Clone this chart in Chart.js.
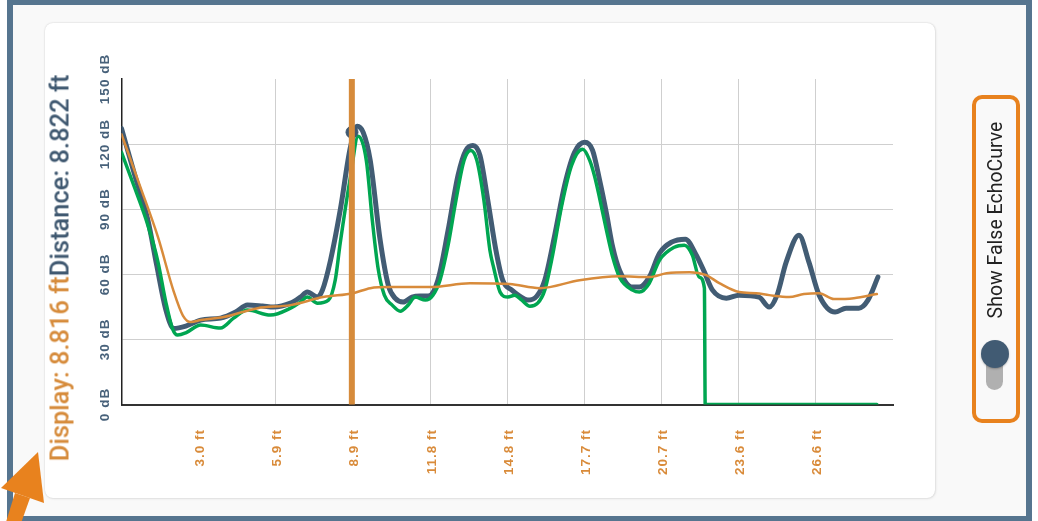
<!DOCTYPE html>
<html>
<head>
<meta charset="utf-8">
<title>Echo Curve</title>
<script src="https://cdn.jsdelivr.net/npm/chart.js@4.4.1/dist/chart.umd.min.js"></script>
<style>
  html, body { margin: 0; padding: 0; background: #fff; }
  body { position: relative; width: 1038px; height: 521px; overflow: hidden; font-family: Roboto, "Liberation Sans", Arial, sans-serif; }
  .frame { position: absolute; left: 7px; top: 0; width: 1025px; height: 521px; box-sizing: border-box; border: 6px solid #56758f; border-top-width: 5px; border-bottom-width: 5px; background: #f9f9f9; }
  .card { position: absolute; left: 45px; top: 23px; width: 890px; height: 475px; background: #fff; border-radius: 8px; box-shadow: 0 0 2px rgba(0,0,0,0.18), 1px 1px 3px rgba(0,0,0,0.06); }
  #echoChart { position: absolute; left: 0; top: 0; }
  .readout { position: absolute; left: 59.5px; top: 268px; transform: translate(-50%, -50%) rotate(-90deg); white-space: nowrap; font-size: 25.5px; line-height: 25px; font-weight: 500; }
  .readout .disp { color: #d68b3b; }
  .readout .dist { color: #3f5870; }
  .toggle { position: absolute; left: 972px; top: 95px; width: 48px; height: 328px; box-sizing: border-box; border: 4px solid #e8821e; border-radius: 10px; }
  .toggle-label { position: absolute; left: 995px; top: 219.5px; transform: translate(-50%, -50%) rotate(-90deg); white-space: nowrap; font-size: 19.5px; color: #222; }
  .track { position: absolute; left: 986px; top: 352px; width: 17px; height: 38px; border-radius: 9px; background: #b0b0b0; }
  .knob { position: absolute; left: 980.5px; top: 340px; width: 28px; height: 28px; border-radius: 50%; background: #415b73; box-shadow: 0 1px 2px rgba(0,0,0,0.25); }
  .arrow { position: absolute; left: 0; top: 0; }
</style>
</head>
<body>
<div class="frame"></div>
<div class="card"></div>
<canvas id="echoChart" width="1038" height="521"></canvas>
<div class="readout"><span class="disp">Display: 8.816 ft</span><span class="dist">Distance: 8.822 ft</span></div>
<div class="toggle"></div>
<div class="toggle-label">Show False EchoCurve</div>
<div class="track"></div>
<div class="knob"></div>
<svg class="arrow" width="1038" height="521">
  <polygon points="38,452 1,488 44,503" fill="#e8821e"/>
  <polygon points="15,493 30,498 20,526 6,522" fill="#e8821e"/>
</svg>
<script>
"use strict";

// Echo curve (dark)
const echoFt = [0.0, 0.5, 1.01, 1.35, 1.69, 2.0, 2.46, 3.03, 3.79, 4.37, 4.82, 5.40, 5.82, 6.47, 6.85, 7.11, 7.50, 7.69, 8.0, 8.37, 8.76, 9.02, 9.25, 9.52, 9.90, 10.21, 10.47, 10.78, 11.12, 11.43, 11.74, 12.11, 12.50, 12.88, 13.18, 13.45, 13.72, 14.02, 14.33, 14.59, 14.94, 15.24, 15.55, 15.90, 16.20, 16.58, 16.96, 17.34, 17.73, 18.03, 18.30, 18.56, 18.80, 19.06, 19.56, 19.82, 20.20, 20.59, 21.05, 21.58, 22.00, 22.31, 22.62, 23.15, 23.64, 24.40, 24.79, 25.09, 25.44, 25.93, 26.31, 26.70, 27.31, 27.73, 28.22, 28.57, 28.95];
const echoDb = [127.2, 106, 85, 64, 44, 35, 36.1, 38.9, 39.8, 42.6, 45.9, 45.4, 44.9, 46.7, 49.5, 51.8, 49.5, 52.7, 66.5, 89.5, 118.5, 128.2, 125.4, 112.5, 75.7, 55, 49, 47.2, 49.5, 50, 50, 57.3, 80.3, 105.6, 117.1, 119.4, 114.8, 94.1, 71.1, 57.3, 52.7, 50, 48.1, 50, 57.3, 78, 101, 116.2, 120.8, 117.1, 103.3, 88.1, 72.5, 61.9, 54.1, 54.1, 58.7, 69.7, 74.8, 76.2, 68.8, 61, 52.7, 49, 50.4, 49.5, 44.9, 50.4, 65.6, 78, 65.6, 50.4, 42.6, 44.4, 44.4, 48.1, 58.7];

// False echo curve (green)
const falseFt = [0.0, 0.5, 1.0, 1.39, 1.7, 1.95, 2.15, 2.46, 3.03, 3.79, 4.29, 4.82, 5.70, 6.47, 6.85, 7.11, 7.50, 7.92, 8.18, 8.37, 8.76, 9.06, 9.37, 9.60, 9.82, 10.06, 10.36, 10.67, 10.97, 11.24, 11.63, 11.92, 12.19, 12.50, 12.80, 13.11, 13.37, 13.60, 13.87, 14.10, 14.25, 14.49, 14.79, 15.05, 15.32, 15.63, 15.93, 16.20, 16.50, 16.85, 17.23, 17.65, 17.92, 18.11, 18.30, 18.56, 18.80, 19.06, 19.56, 19.82, 20.20, 20.59, 21.16, 21.54, 21.85, 22.11, 22.31, 22.34, 28.91];
const falseDb = [116.2, 100, 83, 66, 47, 35, 32, 33, 36.6, 35.2, 39.8, 43.5, 41.2, 44.4, 47.2, 49.5, 46.7, 48.1, 57.3, 74.3, 104.7, 123.6, 112.5, 84.9, 62.8, 50.4, 45.8, 43, 45.8, 49.5, 48.1, 50.4, 57.3, 73.4, 94.1, 112.5, 117.1, 112.5, 94.1, 71.1, 62.8, 51.8, 49.5, 50.4, 48.1, 45.3, 46.7, 52.7, 68.8, 91.8, 110.3, 117.6, 112.5, 105, 95, 80.3, 67.9, 58.7, 52.7, 51.8, 55.9, 66.5, 72.5, 73.4, 68.8, 58.7, 53.6, 0, 0];

// Threshold curve (orange)
const tvtFt = [0.0, 0.7, 1.4, 2.0, 2.35, 2.65, 3.03, 3.91, 5.21, 6.47, 7.72, 8.87, 9.52, 10.28, 11.81, 13.34, 14.86, 16.01, 17.53, 19.06, 20.20, 20.86, 21.74, 22.38, 22.88, 23.64, 24.29, 24.79, 25.55, 26.12, 26.70, 27.27, 28.03, 28.91];
const tvtDb = [124.5, 101, 77, 52, 41, 38, 38.9, 40.3, 44.4, 45.8, 49.5, 51.3, 53.6, 54.1, 54.1, 55.9, 55.5, 53.6, 57.3, 59.1, 58.7, 60.5, 61, 59.6, 55.9, 51.8, 51.3, 50.4, 49.5, 50.9, 51.3, 48.6, 49, 50.9];

// Axis ticks (0.9 m steps shown in ft)
const xTickValues = [2.953, 5.906, 8.858, 11.811, 14.764, 17.717, 20.669, 23.622, 26.575];
const xTickLabels = ["3.0 ft", "5.9 ft", "8.9 ft", "11.8 ft", "14.8 ft", "17.7 ft", "20.7 ft", "23.6 ft", "26.6 ft"];
const yTickValues = [0, 30, 60, 90, 120, 150];
const yTickLabels = ["0 dB", "30 dB", "60 dB", "90 dB", "120 dB", "150 dB"];
const xMaxFt = 29.528;

const displayFt = 8.816;
const distanceFt = 8.822;
const distanceDb = 125.5;

const toPoints = (xs, ys) => xs.map((x, i) => ({ x, y: ys[i] }));

const echoOverlay = {
  id: "echoOverlay",
  afterDatasetsDraw(chart) {
    const { ctx, chartArea, scales } = chart;
    const px = scales.x.getPixelForValue(displayFt);
    ctx.save();
    ctx.strokeStyle = "#d68b3b";
    ctx.lineWidth = 6;
    ctx.beginPath();
    ctx.moveTo(px, chartArea.top);
    ctx.lineTo(px, chartArea.bottom);
    ctx.stroke();
    ctx.restore();
  },
  afterDraw(chart) {
    const { ctx, scales } = chart;
    ctx.save();
    ctx.font = "bold 13.5px 'Liberation Sans', Arial, sans-serif";
    ctx.letterSpacing = "1px";

    // y labels, rotated
    ctx.fillStyle = "#47617a";
    ctx.textAlign = "center";
    ctx.textBaseline = "alphabetic";
    scales.y.ticks.forEach((t) => {
      const i = yTickValues.indexOf(t.value);
      if (i < 0) return;
      ctx.save();
      ctx.translate(108.5, scales.y.getPixelForValue(t.value));
      ctx.rotate(-Math.PI / 2);
      ctx.fillText(yTickLabels[i], 0, 0);
      ctx.restore();
    });

    // x labels, rotated
    ctx.fillStyle = "#d98b3a";
    ctx.textAlign = "right";
    scales.x.ticks.forEach((t, i) => {
      ctx.save();
      ctx.translate(scales.x.getPixelForValue(t.value) + 5.5, 429);
      ctx.rotate(-Math.PI / 2);
      ctx.fillText(xTickLabels[i], 0, 0);
      ctx.restore();
    });
    ctx.restore();
  },
};

const lineStyle = {
  pointRadius: 0,
  fill: false,
  cubicInterpolationMode: "monotone",
  borderJoinStyle: "round",
  borderCapStyle: "round",
};

new Chart(document.getElementById("echoChart"), {
  type: "line",
  data: {
    datasets: [
      {
        label: "Distance",
        data: [{ x: distanceFt, y: distanceDb }],
        showLine: false,
        pointRadius: 6,
        pointBackgroundColor: "#3f5870",
        pointBorderColor: "#3f5870",
      },
      { label: "TVT", data: toPoints(tvtFt, tvtDb), borderColor: "#d88b3b", borderWidth: 2.5, ...lineStyle },
      { label: "False EchoCurve", data: toPoints(falseFt, falseDb), borderColor: "#00a651", borderWidth: 3.5, ...lineStyle },
      { label: "EchoCurve", data: toPoints(echoFt, echoDb), borderColor: "#425c74", borderWidth: 5, ...lineStyle },
    ],
  },
  options: {
    responsive: false,
    animation: false,
    layout: { padding: { left: 0, top: 79, right: 145, bottom: 0 } },
    plugins: { legend: { display: false }, tooltip: { enabled: false } },
    scales: {
      x: {
        type: "linear",
        min: 0,
        max: xMaxFt,
        afterBuildTicks: (axis) => {
          axis.ticks = xTickValues.map((v) => ({ value: v }));
        },
        afterFit: (axis) => {
          axis.height = 116.5;
        },
        ticks: { display: false },
        grid: {
          color: (c) => (c.index === 0 ? "rgba(0,0,0,0)" : "#cfcfcf"),
          lineWidth: 1,
          drawTicks: false,
        },
        border: { color: "#333", width: 2 },
      },
      y: {
        min: 0,
        max: 150,
        afterBuildTicks: (axis) => {
          axis.ticks = yTickValues.map((v) => ({ value: v }));
        },
        afterFit: (axis) => {
          axis.width = 121.5;
        },
        ticks: { display: false },
        grid: {
          color: (c) => (c.tick && (c.tick.value === 150 || c.tick.value === 0) ? "rgba(0,0,0,0)" : "#cfcfcf"),
          lineWidth: 1,
          drawTicks: false,
        },
        border: { color: "#222", width: 1.5 },
      },
    },
  },
  plugins: [echoOverlay],
});
</script>
</body>
</html>
